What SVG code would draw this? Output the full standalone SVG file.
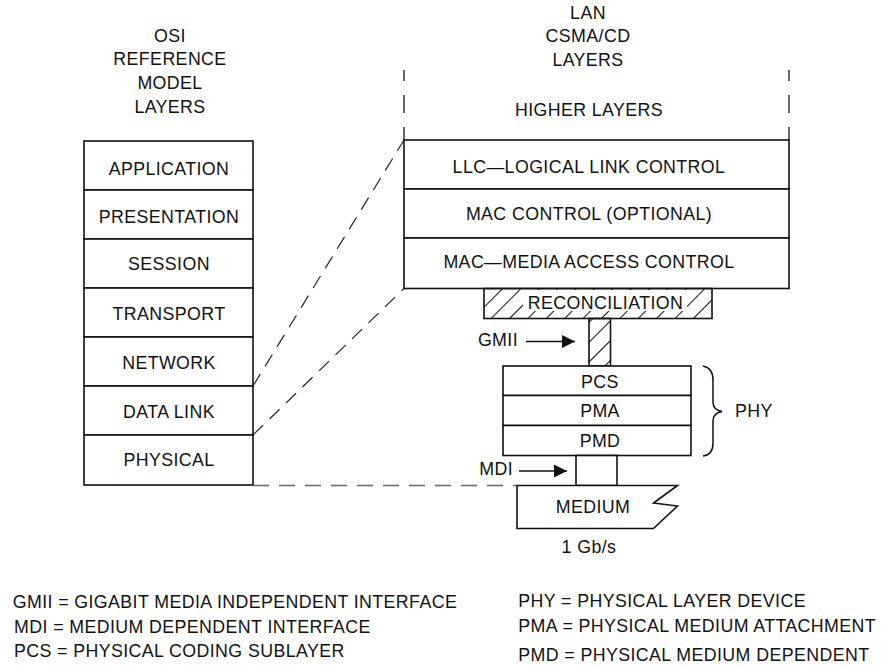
<svg xmlns="http://www.w3.org/2000/svg" width="881" height="667" viewBox="0 0 881 667">
<style>
text{font-family:"Liberation Sans",Arial,sans-serif;font-size:17.8px;letter-spacing:0.4px;fill:#111;}
.c{text-anchor:middle;}
.box{fill:#fff;stroke:#111;stroke-width:1.6;}
.dash{fill:none;stroke:#222;stroke-width:1.2;stroke-dasharray:14 9;}
.gdash{fill:none;stroke:#666;stroke-width:1.4;stroke-dasharray:16 10;}
.arr{stroke:#111;stroke-width:1.6;fill:none;marker-end:url(#ah);}
.vd{stroke:#333;stroke-width:1.5;}
</style>
<defs>
<marker id="ah" markerUnits="userSpaceOnUse" markerWidth="14" markerHeight="14" refX="13" refY="7" orient="auto">
<path d="M0,0.5 L13,7 L0,13.5 Z" fill="#111"/>
</marker>
<pattern id="hatch1" patternUnits="userSpaceOnUse" width="13" height="13" patternTransform="rotate(45)">
<line x1="0" y1="0" x2="0" y2="13" stroke="#111" stroke-width="2"/>
</pattern>
<pattern id="hatch2" patternUnits="userSpaceOnUse" width="14" height="14" patternTransform="rotate(45)">
<line x1="0" y1="0" x2="0" y2="14" stroke="#111" stroke-width="2"/>
</pattern>
</defs>
<rect width="881" height="667" fill="#fff"/>

<g id="osi-title">
<text class="c" x="170" y="42">OSI</text>
<text class="c" x="170" y="65">REFERENCE</text>
<text class="c" x="170" y="88.5">MODEL</text>
<text class="c" x="170" y="112.5">LAYERS</text>
</g>
<g id="lan-title">
<text class="c" x="588" y="18.5">LAN</text>
<text class="c" x="588" y="42">CSMA/CD</text>
<text class="c" x="588" y="65.5">LAYERS</text>
</g>

<g id="osi-application"><rect class="box" x="84" y="141" width="169" height="49"/><text class="c" x="169" y="175">APPLICATION</text></g>
<g id="osi-presentation"><rect class="box" x="84" y="190" width="169" height="49"/><text class="c" x="169" y="222.5">PRESENTATION</text></g>
<g id="osi-session"><rect class="box" x="84" y="239" width="169" height="49"/><text class="c" x="169" y="270">SESSION</text></g>
<g id="osi-transport"><rect class="box" x="84" y="288" width="169" height="49"/><text class="c" x="169" y="320">TRANSPORT</text></g>
<g id="osi-network"><rect class="box" x="84" y="337" width="169" height="49"/><text class="c" x="169" y="368.5">NETWORK</text></g>
<g id="osi-datalink"><rect class="box" x="84" y="386" width="169" height="49"/><text class="c" x="169" y="417.5">DATA LINK</text></g>
<g id="osi-physical"><rect class="box" x="84" y="435" width="169" height="50"/><text class="c" x="169" y="466">PHYSICAL</text></g>

<g id="higher-layers">
<line class="vd" x1="404" y1="70" x2="404" y2="81"/>
<line class="vd" x1="404" y1="95" x2="404" y2="113"/>
<line class="vd" x1="404" y1="127" x2="404" y2="140"/>
<line class="vd" x1="789" y1="70" x2="789" y2="81"/>
<line class="vd" x1="789" y1="95" x2="789" y2="113"/>
<line class="vd" x1="789" y1="127" x2="789" y2="140"/>
<text class="c" x="589" y="116">HIGHER LAYERS</text>
</g>
<g id="llc"><rect class="box" x="404" y="140" width="385" height="49"/><text class="c" x="589" y="173">LLC—LOGICAL LINK CONTROL</text></g>
<g id="mac-control"><rect class="box" x="404" y="189" width="385" height="49"/><text class="c" x="589" y="220">MAC CONTROL (OPTIONAL)</text></g>
<g id="mac"><rect class="box" x="404" y="238" width="385" height="50.5"/><text class="c" x="589" y="267.5">MAC—MEDIA ACCESS CONTROL</text></g>

<g id="reconciliation">
<rect x="484" y="288.5" width="228" height="30" fill="url(#hatch1)" stroke="#111" stroke-width="1.6"/>
<rect x="523" y="290" width="164" height="21" fill="#fff"/>
<text class="c" x="605.5" y="308.5">RECONCILIATION</text>
</g>
<g id="gmii">
<rect x="589" y="318.5" width="21.5" height="47.5" fill="url(#hatch2)" stroke="#111" stroke-width="1.6"/>
</g>
<g id="pcs"><rect class="box" x="503" y="366" width="188" height="29.5"/><text class="c" x="600" y="387.5">PCS</text></g>
<g id="pma"><rect class="box" x="503" y="395.5" width="188" height="30"/><text class="c" x="600" y="417">PMA</text></g>
<g id="pmd"><rect class="box" x="503" y="425.5" width="188" height="30"/><text class="c" x="600" y="447">PMD</text></g>
<g id="phy">
<path d="M703,366 Q713,368 713,380 L713,402 Q713,410 722,411.5 Q713,413 713,421 L713,443 Q713,455 703,456" fill="none" stroke="#111" stroke-width="1.5"/>
<text x="735" y="416.5">PHY</text>
</g>
<g id="mdi"><rect class="box" x="576" y="455.5" width="41" height="30"/></g>
<g id="medium">
<path d="M517,485.5 L677.5,485.5 L653.5,503 L677.5,506 L653.5,528.5 L517,528.5 Z" fill="#fff" stroke="#111" stroke-width="1.6"/>
<text class="c" x="593" y="512.5">MEDIUM</text>
<text class="c" x="589" y="553">1 Gb/s</text>
</g>

<g id="connectors">
<line class="dash" x1="253" y1="386" x2="404" y2="140"/>
<line class="dash" x1="253" y1="435" x2="404" y2="288.5"/>
<line class="gdash" x1="253" y1="485.5" x2="517" y2="485.5"/>
<text x="518" y="345.5" text-anchor="end">GMII</text>
<line class="arr" x1="526" y1="341.5" x2="575" y2="341.5"/>
<text x="513" y="475" text-anchor="end">MDI</text>
<line class="arr" x1="519" y1="471" x2="567" y2="471"/>
</g>

<g id="legend">
<text x="12.7" y="608.3">GMII = GIGABIT MEDIA INDEPENDENT INTERFACE</text>
<text x="14" y="633">MDI = MEDIUM DEPENDENT INTERFACE</text>
<text x="14" y="656.7">PCS = PHYSICAL CODING SUBLAYER</text>
<text x="518.3" y="606.7">PHY = PHYSICAL LAYER DEVICE</text>
<text x="518.3" y="631.7">PMA = PHYSICAL MEDIUM ATTACHMENT</text>
<text x="518.3" y="660.7">PMD = PHYSICAL MEDIUM DEPENDENT</text>
</g>
</svg>
